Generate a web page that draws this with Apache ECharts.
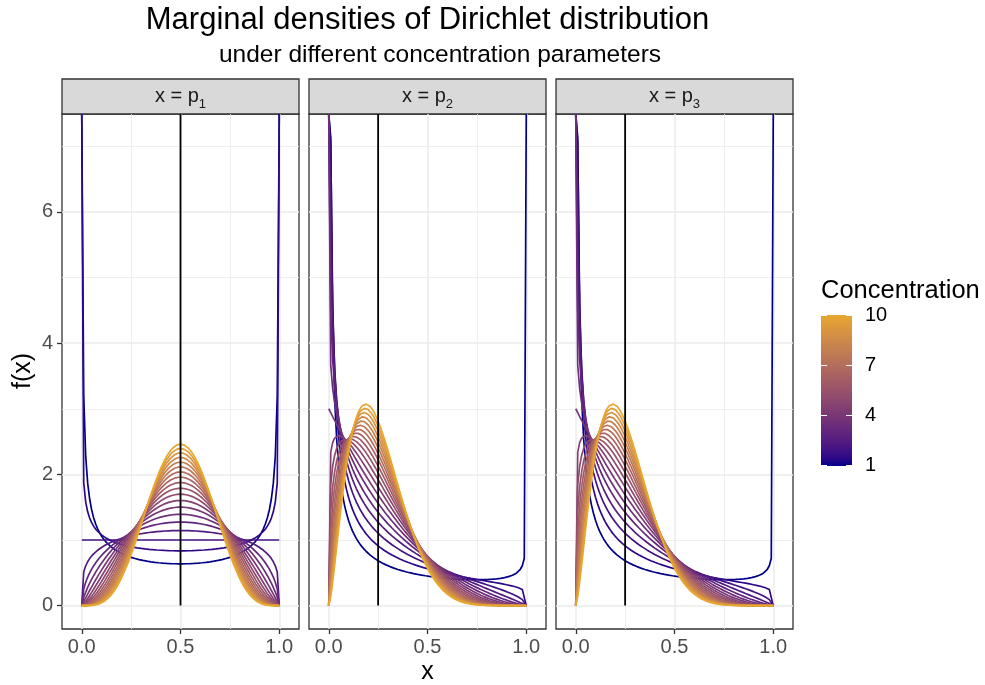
<!DOCTYPE html>
<html>
<head>
<meta charset="utf-8">
<script src="https://cdn.jsdelivr.net/npm/echarts@6/dist/echarts.min.js"></script>
<style>
  html, body { margin: 0; padding: 0; background: #ffffff; }
  #chart { width: 985px; height: 685px; }
</style>
</head>
<body>
<div id="chart"></div>
<script>
// concentration levels, one curve per level
const concentrations = [1, 1.5, 2, 2.5, 3, 3.5, 4, 4.5, 5, 5.5, 6, 6.5, 7, 7.5, 8, 8.5, 9, 9.5, 10]
// expected value of each component p1, p2, p3 (black vertical lines)
const baseMeasure = [0.5, 0.25, 0.25]
const panelIndex = ['1', '2', '3']
const xTicks = [0, 0.5, 1]
const xMinorGrid = [0.25, 0.75]
const yTicks = [0, 2, 4, 6]
const yMinorGrid = [1, 3, 5, 7]
const legendTicks = [1, 4, 7, 10]
const gridStep = 0.01

const FONT = 'Liberation Sans'
const LOW = '#00008B'
const HIGH = '#E8A72E'

// log gamma (Lanczos)
function lgamma (z) {
  const c = [0.99999999999980993, 676.5203681218851, -1259.1392167224028, 771.32342877765313,
    -176.61502916214059, 12.507343278686905, -0.13857109526572012, 9.9843695780195716e-6, 1.5056327351493116e-7]
  if (z < 0.5) return Math.log(Math.PI / Math.sin(Math.PI * z)) - lgamma(1 - z)
  z -= 1
  let x = c[0]
  for (let i = 1; i < 9; i++) x += c[i] / (z + i)
  const t = z + 7.5
  return 0.5 * Math.log(2 * Math.PI) + (z + 0.5) * Math.log(t) - t + Math.log(x)
}
function betaPdf (x, a, b) {
  const lb = lgamma(a) + lgamma(b) - lgamma(a + b)
  return Math.pow(x, a - 1) * Math.pow(1 - x, b - 1) / Math.exp(lb)
}

// colour ramp in Lab space, like scale_colour_gradient
const WHITE = [0.95047, 1, 1.08883]
function hexToRgb (h) { return [1, 3, 5].map(i => parseInt(h.slice(i, i + 2), 16)) }
function toLinear (c) { c /= 255; return c <= 0.04045 ? c / 12.92 : Math.pow((c + 0.055) / 1.055, 2.4) }
function fromLinear (c) {
  const v = c <= 0.0031308 ? 12.92 * c : 1.055 * Math.pow(c, 1 / 2.4) - 0.055
  return Math.round(Math.min(1, Math.max(0, v)) * 255)
}
function rgbToLab (rgb) {
  const [r, g, b] = rgb.map(toLinear)
  const X = 0.4124564 * r + 0.3575761 * g + 0.1804375 * b
  const Y = 0.2126729 * r + 0.7151522 * g + 0.0721750 * b
  const Z = 0.0193339 * r + 0.1191920 * g + 0.9503041 * b
  const f = t => t > 216 / 24389 ? Math.cbrt(t) : (24389 / 27 * t + 16) / 116
  const fx = f(X / WHITE[0]); const fy = f(Y / WHITE[1]); const fz = f(Z / WHITE[2])
  return [116 * fy - 16, 500 * (fx - fy), 200 * (fy - fz)]
}
function labToRgb (lab) {
  const fy = (lab[0] + 16) / 116; const fx = fy + lab[1] / 500; const fz = fy - lab[2] / 200
  const inv = t => t * t * t > 216 / 24389 ? t * t * t : (116 * t - 16) / (24389 / 27)
  const X = inv(fx) * WHITE[0]; const Y = inv(fy) * WHITE[1]; const Z = inv(fz) * WHITE[2]
  const r = 3.2404542 * X - 1.5371385 * Y - 0.4985314 * Z
  const g = -0.9692660 * X + 1.8760108 * Y + 0.0415560 * Z
  const b = 0.0556434 * X - 0.2040259 * Y + 1.0572252 * Z
  return 'rgb(' + [r, g, b].map(fromLinear).join(',') + ')'
}
const labLow = rgbToLab(hexToRgb(LOW))
const labHigh = rgbToLab(hexToRgb(HIGH))
const cMin = Math.min(...concentrations)
const cMax = Math.max(...concentrations)
function rampColor (v) {
  const t = (v - cMin) / (cMax - cMin)
  return labToRgb(labLow.map((l, i) => l + (labHigh[i] - l) * t))
}

// evaluate densities on the grid
const xs = []
for (let i = 0; i <= Math.round(1 / gridStep); i++) xs.push(i * gridStep)
const panelCurves = baseMeasure.map(m => concentrations.map(c => xs.map(x => betaPdf(x, c * m, c * (1 - m)))))
let yTop = 0
panelCurves.forEach(p => p.forEach(curve => curve.forEach(v => { if (isFinite(v) && v > yTop) yTop = v })))
const yMax = yTop * 1.05
const yMin = -yTop * 0.05

const panelLeft = [62, 309, 556]
const panelW = 237
const panelTop = 114
const panelH = 515

const chart = echarts.init(document.getElementById('chart'))

const grids = panelLeft.map(l => ({
  left: l, top: panelTop, width: panelW, height: panelH,
  show: true, borderColor: '#333333', borderWidth: 1.3, backgroundColor: 'transparent'
}))
const xAxes = panelLeft.map((l, i) => ({
  type: 'value', gridIndex: i, min: -0.1, max: 1.1,
  axisLine: { show: false, onZero: false },
  axisTick: { show: true, customValues: xTicks, length: 5, lineStyle: { color: '#333333', width: 1.3 } },
  axisLabel: { customValues: xTicks, formatter: v => v.toFixed(1), color: '#4D4D4D', fontSize: 20, fontFamily: FONT, margin: 8 },
  splitLine: { show: false }
}))
const yAxes = panelLeft.map((l, i) => ({
  type: 'value', gridIndex: i, min: yMin, max: yMax,
  axisLine: { show: false, onZero: false },
  axisTick: { show: i === 0, customValues: yTicks, length: 5, lineStyle: { color: '#333333', width: 1.3 } },
  axisLabel: { show: i === 0, customValues: yTicks, color: '#4D4D4D', fontSize: 20, fontFamily: FONT, margin: 9 },
  splitLine: { show: false }
}))

const series = []
baseMeasure.forEach((m, i) => {
  const major = { color: '#EBEBEB', width: 1.5, type: 'solid' }
  const minor = { color: '#EBEBEB', width: 0.8, type: 'solid' }
  // panel grid lines, kept under the curves
  series.push({
    type: 'line', xAxisIndex: i, yAxisIndex: i, data: [], silent: true, z: 1,
    markLine: {
      z: 1, silent: true, animation: false, symbol: ['none', 'none'], label: { show: false },
      data: [
        ...xTicks.map(v => ({ xAxis: v, lineStyle: major })),
        ...xMinorGrid.map(v => ({ xAxis: v, lineStyle: minor })),
        ...yTicks.map(v => ({ yAxis: v, lineStyle: major })),
        ...yMinorGrid.map(v => ({ yAxis: v, lineStyle: minor }))
      ]
    }
  })
  concentrations.forEach((c, k) => {
    series.push({
      type: 'line', xAxisIndex: i, yAxisIndex: i, z: 10, silent: true,
      showSymbol: false, clip: true,
      // infinite densities are drawn at the panel edge
      data: xs.map((x, j) => [x, isFinite(panelCurves[i][k][j]) ? panelCurves[i][k][j] : yMax]),
      lineStyle: { color: rampColor(c), width: 1.7 }
    })
  })
  series.push({
    type: 'line', xAxisIndex: i, yAxisIndex: i, z: 12, silent: true,
    showSymbol: false, data: [[m, 0], [m, yMax]],
    lineStyle: { color: '#000000', width: 1.8 }
  })
})

const graphic = []
// titles
graphic.push({ type: 'text', x: 427.5, y: 20, style: { text: 'Marginal densities of Dirichlet distribution', font: '31px ' + FONT, fill: '#000', align: 'center', verticalAlign: 'middle' } })
graphic.push({ type: 'text', x: 440, y: 55, style: { text: 'under different concentration parameters', font: '24.5px ' + FONT, fill: '#000', align: 'center', verticalAlign: 'middle' } })
graphic.push({ type: 'text', x: 427.5, y: 672, style: { text: 'x', font: '25px ' + FONT, fill: '#000', align: 'center', verticalAlign: 'middle' } })
graphic.push({ type: 'text', x: 23, y: 371, rotation: Math.PI / 2, style: { text: 'f(x)', font: '25px ' + FONT, fill: '#000', align: 'center', verticalAlign: 'middle' } })
// facet strips
panelLeft.forEach((l, i) => {
  graphic.push({ type: 'rect', shape: { x: l, y: 79, width: panelW, height: 35 }, style: { fill: '#D9D9D9', stroke: '#333333', lineWidth: 1.3 } })
  graphic.push({
    type: 'text', x: l + panelW / 2, y: 96.5,
    style: {
      text: '{a|x = p}{s|' + panelIndex[i] + '}', align: 'center', verticalAlign: 'middle',
      rich: {
        a: { fontSize: 20, fontFamily: FONT, fill: '#1A1A1A', lineHeight: 28 },
        s: { fontSize: 13, fontFamily: FONT, fill: '#1A1A1A', lineHeight: 14, verticalAlign: 'bottom' }
      }
    }
  })
})
// colour bar legend
const barX = 821; const barY = 315; const barW = 31; const barH = 151
const stops = []
for (let s = 0; s <= 20; s++) stops.push({ offset: s / 20, color: rampColor(cMin + (cMax - cMin) * s / 20) })
graphic.push({ type: 'text', x: 821, y: 291, style: { text: 'Concentration', font: '25.5px ' + FONT, fill: '#000', align: 'left', verticalAlign: 'middle' } })
graphic.push({ type: 'rect', shape: { x: barX, y: barY, width: barW, height: barH }, style: { fill: new echarts.graphic.LinearGradient(0, 1, 0, 0, stops) } })
legendTicks.forEach(v => {
  const y = barY + barH - 0.5 - (v - cMin) / (cMax - cMin) * (barH - 1)
  graphic.push({ type: 'line', shape: { x1: barX, y1: y, x2: barX + 6, y2: y }, style: { stroke: '#FFFFFF', lineWidth: 1 } })
  graphic.push({ type: 'line', shape: { x1: barX + barW - 6, y1: y, x2: barX + barW, y2: y }, style: { stroke: '#FFFFFF', lineWidth: 1 } })
  graphic.push({ type: 'text', x: 865, y: y, style: { text: String(v), font: '20px ' + FONT, fill: '#000', align: 'left', verticalAlign: 'middle' } })
})

chart.setOption({
  animation: false,
  grid: grids,
  xAxis: xAxes,
  yAxis: yAxes,
  series: series,
  graphic: graphic
})
</script>
</body>
</html>
